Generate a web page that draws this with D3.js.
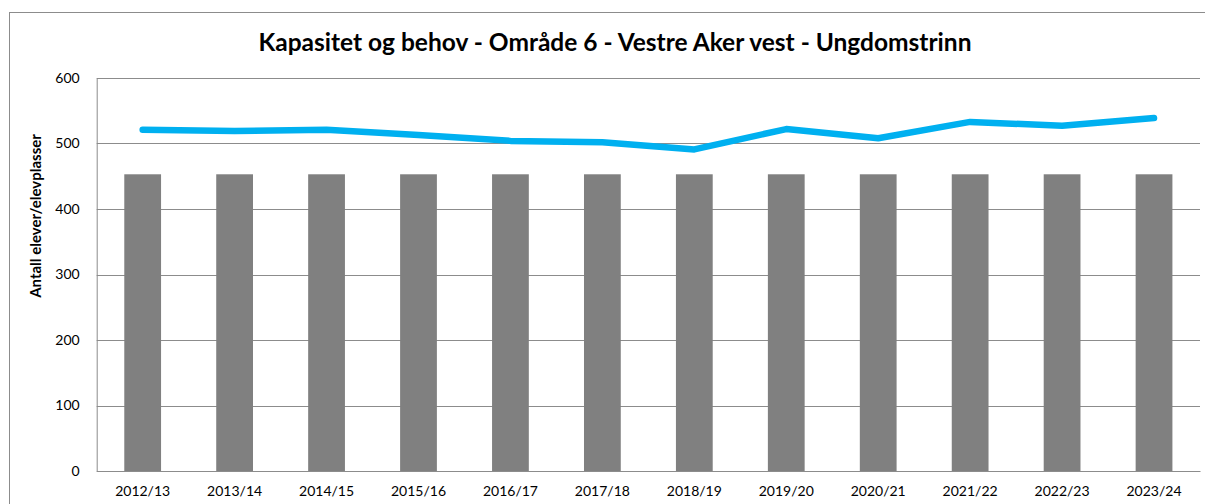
<!DOCTYPE html>
<html>
<head>
<meta charset="utf-8">
<script src="https://cdn.jsdelivr.net/npm/d3@7"></script>
<style>
  body { margin: 0; background: #fff; }
  svg text { font-family: Lato, "Open Sans", sans-serif; fill: #000; }
</style>
</head>
<body>
<div id="chart"></div>
<script>
// data
var years = ["2012/13", "2013/14", "2014/15", "2015/16", "2016/17", "2017/18",
             "2018/19", "2019/20", "2020/21", "2021/22", "2022/23", "2023/24"];
var kapasitet = [453, 453, 453, 453, 453, 453, 453, 453, 453, 453, 453, 453];
var behov = [521, 519, 521, 513, 504, 502, 491, 522, 508, 533, 527, 539];
var yTicks = [0, 100, 200, 300, 400, 500, 600];

var W = 1205, H = 504;
var margin = { top: 78, right: 5, bottom: 33, left: 96.7 },
    width = W - margin.left - margin.right,
    height = H - margin.top - margin.bottom;

var svg = d3.select("#chart")
    .append("svg")
    .attr("width", W)
    .attr("height", H);

// outer chart border
svg.append("rect")
    .attr("x", 9.5).attr("y", 12.5)
    .attr("width", 1220).attr("height", 520)
    .attr("fill", "none")
    .attr("stroke", "#8c8c8c")
    .attr("stroke-width", 1);

svg.append("text")
    .attr("x", 615)
    .attr("y", 51)
    .attr("text-anchor", "middle")
    .style("font-weight", "bold")
    .style("font-size", "24.5px")
    .text("Kapasitet og behov - Område 6 - Vestre Aker vest - Ungdomstrinn");

var g = svg.append("g")
    .attr("transform", `translate(${margin.left}, ${margin.top})`);

var x = d3.scaleBand()
    .domain(years)
    .range([0, width])
    .paddingInner(0.6)
    .paddingOuter(0.3);

var y = d3.scaleLinear()
    .domain([0, 600])
    .range([height, 0]);

// gridlines
g.append("g")
    .selectAll("line")
    .data(yTicks)
    .join("line")
    .attr("x1", 0).attr("x2", width)
    .attr("y1", function (d) { return Math.round(y(d)) + 0.5; })
    .attr("y2", function (d) { return Math.round(y(d)) + 0.5; })
    .attr("stroke", "#8c8c8c")
    .attr("stroke-width", 1);

// bars
g.append("g")
    .selectAll("rect")
    .data(kapasitet)
    .join("rect")
    .attr("x", function (d, i) { return x(years[i]); })
    .attr("y", function (d) { return y(d); })
    .attr("width", x.bandwidth())
    .attr("height", function (d) { return height - y(d); })
    .attr("fill", "#808080");

// y axis
var yAxis = g.append("g")
    .call(d3.axisLeft(y).tickValues(yTicks).tickSize(0).tickPadding(17));
yAxis.select(".domain").attr("stroke", "#8c8c8c");
yAxis.selectAll("text").style("font-size", "14px").style("font-family", "Lato, sans-serif");

// x axis
var xAxis = g.append("g")
    .attr("transform", `translate(0, ${height})`)
    .call(d3.axisBottom(x).tickSize(0).tickPadding(15));
xAxis.select(".domain").attr("stroke", "#8c8c8c");
xAxis.selectAll("text").style("font-size", "14px").style("font-family", "Lato, sans-serif");

// line
var line = d3.line()
    .x(function (d, i) { return x(years[i]) + x.bandwidth() / 2; })
    .y(function (d) { return y(d); });

g.append("path")
    .datum(behov)
    .attr("d", line)
    .attr("fill", "none")
    .attr("stroke", "#00b0f0")
    .attr("stroke-width", 6.5)
    .attr("stroke-linecap", "round")
    .attr("stroke-linejoin", "round");

// y axis title
svg.append("text")
    .attr("transform", "translate(41, 216) rotate(-90)")
    .attr("text-anchor", "middle")
    .style("font-weight", "bold")
    .style("font-size", "15px")
    .text("Antall elever/elevplasser");
</script>
</body>
</html>
